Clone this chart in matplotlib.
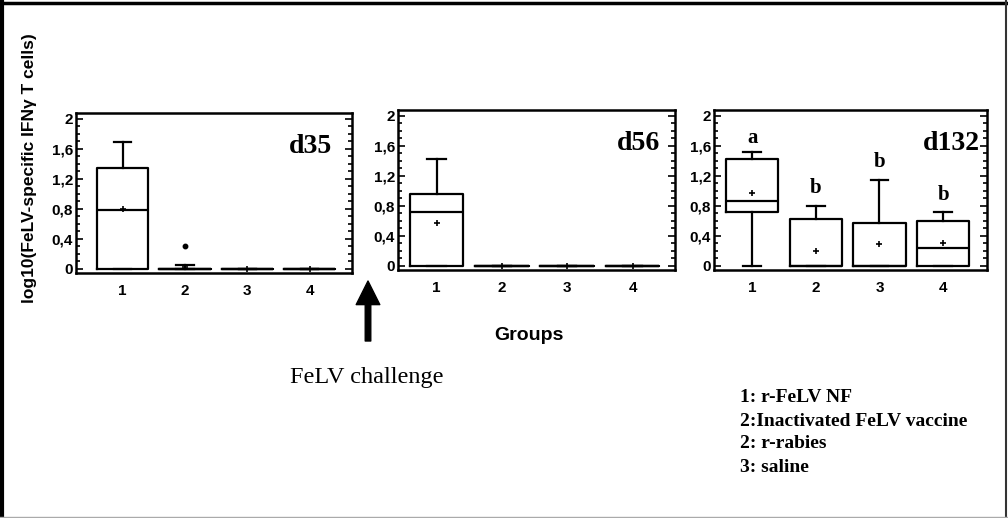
import numpy as np
import matplotlib
matplotlib.use("Agg")
import matplotlib.pyplot as plt
from matplotlib.lines import Line2D
from matplotlib.ticker import MultipleLocator, FixedLocator

# values (log10 of FeLV-specific IFNg T cells)
groups = [1, 2, 3, 4]
days = ["d35", "d56", "d132"]

q1_d35 = [0.0, 0.0, 0.0, 0.0]
med_d35 = [0.78, 0.0, 0.0, 0.0]
q3_d35 = [1.35, 0.0, 0.0, 0.0]
wlo_d35 = [0.0, 0.0, 0.0, 0.0]
whi_d35 = [1.69, 0.05, 0.0, 0.0]
mean_d35 = [0.79, 0.02, 0.0, 0.0]
fliers_d35 = [[], [0.30], [], []]

q1_d56 = [0.0, 0.0, 0.0, 0.0]
med_d56 = [0.71, 0.0, 0.0, 0.0]
q3_d56 = [0.96, 0.0, 0.0, 0.0]
wlo_d56 = [0.0, 0.0, 0.0, 0.0]
whi_d56 = [1.42, 0.0, 0.0, 0.0]
mean_d56 = [0.57, 0.0, 0.0, 0.0]
fliers_d56 = [[], [], [], []]

q1_d132 = [0.71, 0.0, 0.0, 0.0]
med_d132 = [0.86, 0.0, 0.0, 0.24]
q3_d132 = [1.43, 0.62, 0.57, 0.60]
wlo_d132 = [0.0, 0.0, 0.0, 0.0]
whi_d132 = [1.52, 0.79, 1.15, 0.72]
mean_d132 = [0.97, 0.20, 0.29, 0.30]
fliers_d132 = [[], [], [], []]

letters_d132 = ["a", "b", "b", "b"]
letter_y_d132 = [1.71, 1.04, 1.38, 0.94]

yticks = [0, 0.4, 0.8, 1.2, 1.6, 2]
ytick_labels = ["0", "0,4", "0,8", "1,2", "1,6", "2"]

legend_lines = ["1: r-FeLV NF", "2:Inactivated FeLV vaccine", "2: r-rabies", "3: saline"]

SANS = "Liberation Sans"
SERIF = "Liberation Serif"


def make_stats(q1, med, q3, wlo, whi, mean, fliers) :
    stats = []
    for i in range(len(q1)) :
        stats.append(dict(q1 = q1[i], med = med[i], q3 = q3[i], whislo = wlo[i],
                          whishi = whi[i], mean = mean[i], fliers = fliers[i]))
    return stats


def style_pad(ax, xlim) :
    ax.set_xlim(xlim)
    ax.set_ylim(-0.06, 2.08)
    ax.yaxis.set_major_locator(FixedLocator(yticks))
    ax.set_yticklabels(ytick_labels)
    ax.yaxis.set_minor_locator(MultipleLocator(0.1))
    ax.set_xticks(groups)
    ax.set_xticklabels([str(g) for g in groups])
    ax.tick_params(axis = "y", which = "both", direction = "in", left = True, right = True,
                   width = 1.2, pad = 2)
    ax.tick_params(axis = "y", which = "major", length = 5)
    ax.tick_params(axis = "y", which = "minor", length = 3)
    ax.tick_params(axis = "x", length = 0, pad = 8)
    for lab in ax.get_xticklabels() + ax.get_yticklabels() :
        lab.set_fontfamily(SANS)
        lab.set_fontweight("bold")
        lab.set_fontsize(11)
    for sp in ax.spines.values() :
        sp.set_linewidth(1.8)


def draw_box(ax, stats) :
    line = dict(color = "black", linewidth = 1.6)
    ax.bxp(stats, positions = groups, widths = 0.82, showmeans = True, showfliers = True,
           boxprops = line, medianprops = line, whiskerprops = line, capprops = line,
           capwidths = 0.28,
           meanprops = dict(marker = "+", markeredgecolor = "black", markersize = 4, markeredgewidth = 1.2),
           flierprops = dict(marker = "o", markerfacecolor = "black", markeredgecolor = "black", markersize = 3.2))


def main() :
    fig = plt.figure(figsize = (10.08, 5.18), dpi = 100)
    fig.patch.set_facecolor("white")

    positions = [
        [76 / 1008, 1 - 273 / 518, 276 / 1008, 160 / 518],
        [398 / 1008, 1 - 270 / 518, 277 / 1008, 160 / 518],
        [714 / 1008, 1 - 270 / 518, 273 / 1008, 160 / 518],
    ]
    xlims = [(0.25, 4.68), (0.41, 4.65), (0.40, 4.69)]
    all_stats = [
        make_stats(q1_d35, med_d35, q3_d35, wlo_d35, whi_d35, mean_d35, fliers_d35),
        make_stats(q1_d56, med_d56, q3_d56, wlo_d56, whi_d56, mean_d56, fliers_d56),
        make_stats(q1_d132, med_d132, q3_d132, wlo_d132, whi_d132, mean_d132, fliers_d132),
    ]
    day_x = [0.928, 0.946, 0.974]

    pads = []
    for ip, pos in enumerate(positions) :
        ax = fig.add_axes(pos)
        draw_box(ax, all_stats[ip])
        style_pad(ax, xlims[ip])
        ax.text(day_x[ip], 0.79, days[ip], transform = ax.transAxes, ha = "right", va = "center",
                fontfamily = SERIF, fontweight = "bold", fontsize = 20)
        pads.append(ax)

    # significance letters on d132
    for ig, g in enumerate(groups) :
        pads[2].text(g, letter_y_d132[ig], letters_d132[ig], ha = "center", va = "center",
                     fontfamily = SERIF, fontweight = "bold", fontsize = 15)

    fig.text(30 / 1008, 1 - 168 / 518, "log10(FeLV-specific IFN\u03b3 T cells)", rotation = 90,
             ha = "center", va = "center", fontfamily = [SANS, "DejaVu Sans"], fontweight = "bold",
             fontsize = 12.5)
    fig.text(529 / 1008, 1 - 335 / 518, "Groups", ha = "center", va = "center",
             fontfamily = SANS, fontweight = "bold", fontsize = 14)

    # challenge arrow
    fig.add_artist(plt.Annotation("", xy = (368 / 1008, 1 - 281 / 518), xytext = (368 / 1008, 1 - 341 / 518),
                                  xycoords = "figure fraction",
                                  arrowprops = dict(facecolor = "black", edgecolor = "black", width = 4,
                                                    headwidth = 17, headlength = 17, shrink = 0)))
    fig.text(367 / 1008, 1 - 377 / 518, "FeLV challenge", ha = "center", va = "center",
             fontfamily = SERIF, fontsize = 17.5)

    for il, txt in enumerate(legend_lines) :
        fig.text(740 / 1008, 1 - (398 + il * 23) / 518, txt, ha = "left", va = "center",
                 fontfamily = SERIF, fontweight = "bold", fontsize = 14)

    # frame round the figure
    fig.add_artist(Line2D([0.002, 0.002], [0, 1], transform = fig.transFigure, color = "black", lw = 3))
    fig.add_artist(Line2D([0, 1], [0.994, 0.994], transform = fig.transFigure, color = "black", lw = 2.5))
    fig.add_artist(Line2D([0.9985, 0.9985], [0, 1], transform = fig.transFigure, color = "#333333", lw = 1.5))
    fig.add_artist(Line2D([0, 1], [0.002, 0.002], transform = fig.transFigure, color = "#aaaaaa", lw = 1))

    fig.savefig("out.png", dpi = 100)


if __name__ == "__main__" :
    main()
